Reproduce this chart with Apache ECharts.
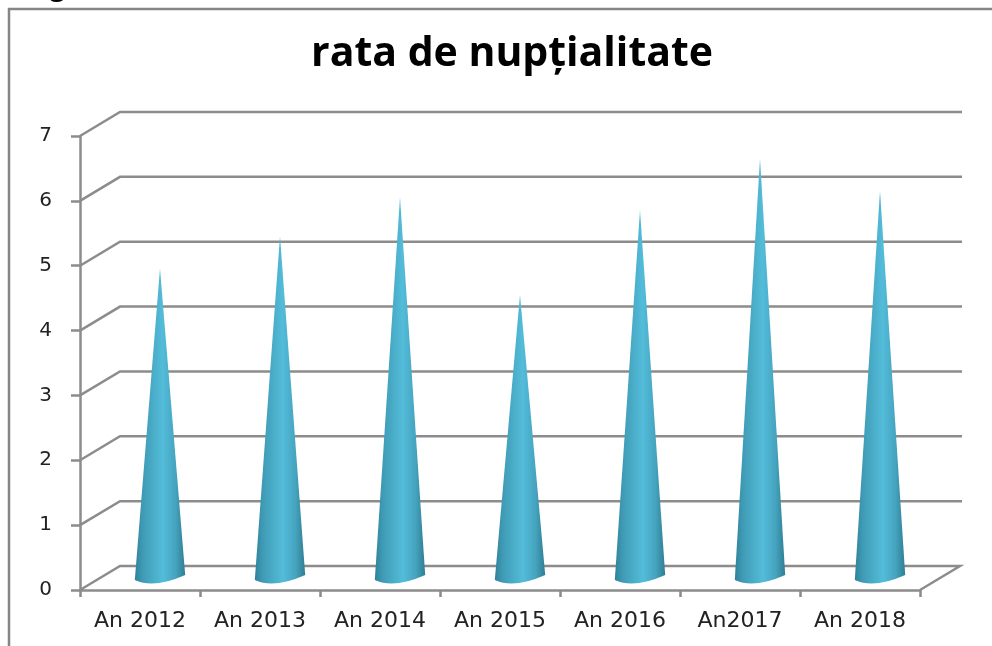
<!DOCTYPE html>
<html><head><meta charset="utf-8">
<style>html,body{margin:0;padding:0;background:#fff}#c{width:992px;height:646px}</style>
<script src="https://cdn.jsdelivr.net/npm/echarts@6/dist/echarts.min.js"></script>
</head><body><div id="c"></div>
<script>
const categories = ['An 2012','An 2013','An 2014','An 2015','An 2016','An2017','An 2018'];
const values = [4.8,5.3,5.9,4.4,5.7,6.5,6.0];
const ticks = [0,1,2,3,4,5,6,7];
const titleText = 'rata de nupțialitate';

const DEPTH_X = 40, DEPTH_Y = 24;
const GREY = '#8c8c8c';
const chart = echarts.init(document.getElementById('c'), null, {renderer:'canvas'});

function wall(params, api){
  const v = api.value(0);
  const band = api.size([1,0])[0];
  const first = api.coord([0,v]);
  const last = api.coord([categories.length-1,v]);
  const x0 = first[0]-band/2, x1 = last[0]+band/2, y = first[1];
  const shape = v === 0
    ? [[x0,y],[x0+DEPTH_X,y-DEPTH_Y],[x1+DEPTH_X,y-DEPTH_Y],[x1,y]]
    : [[x0,y],[x0+DEPTH_X,y-DEPTH_Y],[x1+DEPTH_X+2,y-DEPTH_Y]];
  return {type:'polyline',shape:{points:shape},
    style:{stroke:GREY,lineWidth:2.5,fill:null},silent:true};
}
function cone(params, api){
  const band = api.size([1,0])[0];
  const base = api.coord([api.value(0),0]);
  const tip = api.coord([api.value(0),api.value(1)]);
  const cx = base[0]+DEPTH_X/2, by = base[1]-DEPTH_Y/2, ty = tip[1]-DEPTH_Y/2+2;
  const r = band*0.21;
  const path = `M${cx} ${ty} L${cx+r} ${by-3} Q${cx-6} ${by+11} ${cx-r} ${by+2} Z`;
  return {type:'path',shape:{pathData:path},
    style:{fill:new echarts.graphic.LinearGradient(0,0,1,0,[
      {offset:0,color:'#2f8199'},{offset:0.15,color:'#3f9ab4'},
      {offset:0.55,color:'#53bcd9'},{offset:0.8,color:'#46a5c0'},{offset:1,color:'#2f7d93'}])}};
}
chart.setOption({
  animation:false,
  backgroundColor:'#fff',
  title:{text:titleText,left:507,top:29,textAlign:'center',
    textStyle:{fontFamily:'Open Sans',fontWeight:'bold',fontSize:41,color:'#000'}},
  grid:{left:80,right:72,top:136,bottom:56},
  xAxis:{type:'category',data:categories,
    axisLine:{lineStyle:{color:GREY,width:2.5}},
    axisTick:{show:true,length:7,lineStyle:{color:GREY,width:2.5}},
    axisLabel:{color:'#222',fontFamily:'DejaVu Sans',fontSize:22,margin:20}},
  yAxis:{type:'value',min:0,max:7,interval:1,
    axisLine:{show:true,lineStyle:{color:GREY,width:2.5}},
    axisTick:{show:true,length:9,lineStyle:{color:GREY,width:2.5}},
    splitLine:{show:false},
    axisLabel:{color:'#222',fontFamily:'DejaVu Sans',fontSize:20,margin:28,padding:[4,0,0,0]}},
  series:[
    {type:'custom',name:'wall',data:ticks.map(t=>[t]),renderItem:wall,clip:false,silent:true,
      encode:{y:0},z:1},
    {type:'custom',name:'rata de nupțialitate',data:values.map((v,i)=>[i,v]),renderItem:cone,clip:false,
      encode:{x:0,y:1},z:3}
  ],
  graphic:[
    {type:'polyline',shape:{points:[[9,646],[9,9],[992,9]]},
      style:{stroke:'#858585',lineWidth:2.5,fill:null},z:5},
    {type:'text',x:50,y:-24,style:{text:'g',font:'bold 26px "Open Sans"',fill:'#000'},z:5}
  ]
});
</script></body></html>
